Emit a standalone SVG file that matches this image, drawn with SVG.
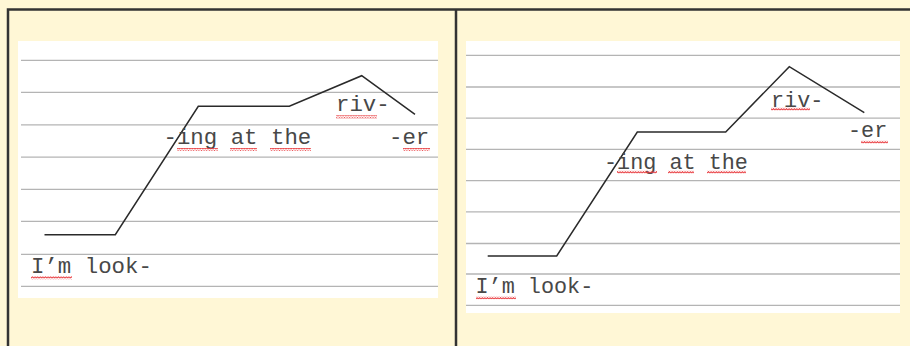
<svg xmlns="http://www.w3.org/2000/svg" width="910" height="346" viewBox="0 0 910 346">
<style>
.rule{stroke:#b4b4b4;stroke-width:1.3}
.contour{fill:none;stroke:#2a2a2a;stroke-width:1.5;stroke-linejoin:miter}
.t{font-family:"Liberation Mono","Courier New",monospace;fill:#484848}
.l{font-size:22.4px}
.r{font-size:21.8px}
.frame{stroke:#333;stroke-width:2.5;fill:none}
</style>
<defs>
<pattern id="sq" width="2.6" height="3" patternUnits="userSpaceOnUse">
<path d="M0,2.3 L1.3,0.7 L2.6,2.3" fill="none" stroke="#e8383c" stroke-width="1"/>
</pattern>
</defs>
<rect x="0" y="0" width="910" height="346" fill="#fff7d6"/>
<g id="frame">
<path class="frame" d="M8,346 V9.5 H910 M456,9.5 V346"/>
</g>
<g id="panel-left">
<rect x="18" y="41" width="420" height="257" fill="#fff"/>
<g>
<line class="rule" x1="21" y1="60.3" x2="438" y2="60.3"/>
<line class="rule" x1="21" y1="92.3" x2="438" y2="92.3"/>
<line class="rule" x1="21" y1="124.8" x2="438" y2="124.8"/>
<line class="rule" x1="21" y1="157.2" x2="438" y2="157.2"/>
<line class="rule" x1="21" y1="189.3" x2="438" y2="189.3"/>
<line class="rule" x1="21" y1="221.3" x2="438" y2="221.3"/>
<line class="rule" x1="21" y1="254.3" x2="438" y2="254.3"/>
<line class="rule" x1="21" y1="286.3" x2="438" y2="286.3"/>
</g>
<g id="connectors-left">
<polyline class="contour" points="44.5,234.7 115.3,234.7 198.3,106.3 289.3,106.3 361.7,75.7 415,114.3"/>
</g>
<g id="text-left">
<text class="t l" x="31" y="273">I’m look-</text>
<text class="t l" x="163.5" y="144">-ing at the</text>
<text class="t l" x="336" y="111">riv-</text>
<text class="t l" x="389" y="144">-er</text>
<rect x="31" y="276.3" width="41" height="3" fill="url(#sq)"/>
<rect x="177" y="148" width="41" height="3" fill="url(#sq)"/>
<rect x="230" y="148" width="27" height="3" fill="url(#sq)"/>
<rect x="270" y="148" width="41" height="3" fill="url(#sq)"/>
<rect x="336" y="115.3" width="41" height="3" fill="url(#sq)"/>
<rect x="403" y="148" width="27" height="3" fill="url(#sq)"/>
</g>
</g>
<g id="panel-right">
<rect x="466" y="41" width="434" height="272" fill="#fff"/>
<g>
<line class="rule" x1="466" y1="55.3" x2="900" y2="55.3"/>
<line class="rule" x1="466" y1="87" x2="900" y2="87"/>
<line class="rule" x1="466" y1="118.2" x2="900" y2="118.2"/>
<line class="rule" x1="466" y1="149.4" x2="900" y2="149.4"/>
<line class="rule" x1="466" y1="180.7" x2="900" y2="180.7"/>
<line class="rule" x1="466" y1="211.8" x2="900" y2="211.8"/>
<line class="rule" x1="466" y1="243.5" x2="900" y2="243.5"/>
<line class="rule" x1="466" y1="274" x2="900" y2="274"/>
<line class="rule" x1="466" y1="305.3" x2="900" y2="305.3"/>
</g>
<g id="connectors-right">
<polyline class="contour" points="487.7,256 556.7,256 637.3,132 725.7,132 789.3,66.7 864.3,112.7"/>
</g>
<g id="text-right">
<text class="t r" x="475.5" y="292.7">I’m look-</text>
<text class="t r" x="604" y="169.3">-ing at the</text>
<text class="t r" x="771" y="106.7">riv-</text>
<text class="t r" x="848" y="137.3">-er</text>
<rect x="476" y="296.3" width="40" height="3" fill="url(#sq)"/>
<rect x="617" y="170.6" width="40" height="3" fill="url(#sq)"/>
<rect x="668" y="170.6" width="26" height="3" fill="url(#sq)"/>
<rect x="707" y="170.6" width="39" height="3" fill="url(#sq)"/>
<rect x="771" y="107.6" width="39" height="3" fill="url(#sq)"/>
<rect x="861" y="140.6" width="27" height="3" fill="url(#sq)"/>
</g>
</g>
</svg>
